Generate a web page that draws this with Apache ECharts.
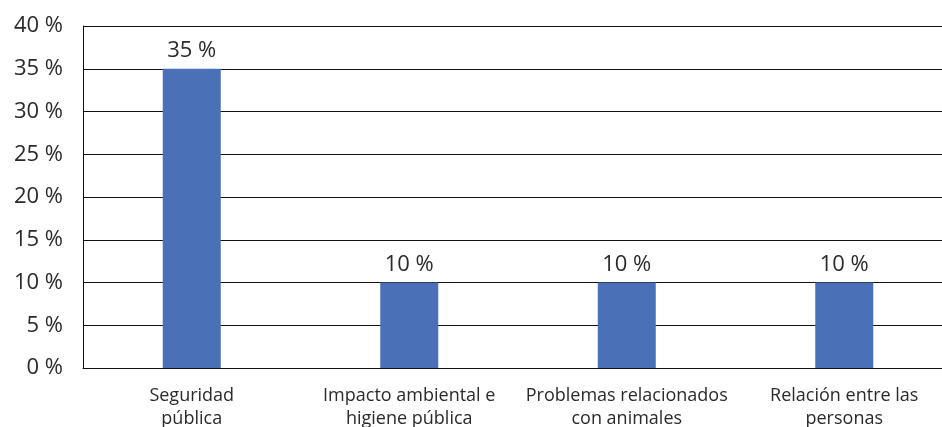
<!DOCTYPE html>
<html>
<head>
<meta charset="utf-8">
<script src="https://cdn.jsdelivr.net/npm/echarts@6/dist/echarts.min.js"></script>
<style>
  html, body { margin: 0; padding: 0; background: #fff; }
  #chart { width: 942px; height: 427px; }
</style>
</head>
<body>
<div id="chart"></div>
<script>
// Categories (wrapped onto two lines) and their shares in percent
const categories = [
  'Seguridad\npública',
  'Impacto ambiental e\nhigiene pública',
  'Problemas relacionados\ncon animales',
  'Relación entre las\npersonas'
];
const shares = [35, 10, 10, 10];
const yTicks = [0, 5, 10, 15, 20, 25, 30, 35, 40];

const font = '"Open Sans", "Noto Sans", sans-serif';
const chart = echarts.init(document.getElementById('chart'), null, { renderer: 'canvas' });

chart.setOption({
  animation: false,
  grid: {
    left: 83, top: 26, bottom: 59, width: 870,
    containLabel: false,
    outerBoundsMode: 'none'
  },
  xAxis: {
    type: 'category',
    data: categories,
    axisLine: { show: true, lineStyle: { color: '#111', width: 1 } },
    axisTick: { show: false },
    axisLabel: {
      color: '#2a2a2a',
      fontFamily: font,
      fontSize: 18,
      lineHeight: 23,
      margin: 16,
      interval: 0
    }
  },
  yAxis: {
    type: 'value',
    min: yTicks[0],
    max: yTicks[yTicks.length - 1],
    interval: yTicks[1] - yTicks[0],
    axisLine: { show: true, lineStyle: { color: '#111', width: 1 } },
    axisTick: { show: false },
    splitLine: { show: true, lineStyle: { color: '#111', width: 1 } },
    axisLabel: {
      color: '#2a2a2a',
      fontFamily: font,
      fontSize: 22,
      margin: 20,
      formatter: v => v + ' %'
    }
  },
  series: [{
    type: 'bar',
    data: shares,
    barWidth: 58,
    itemStyle: { color: '#4A70B7' },
    label: {
      show: true,
      position: 'top',
      distance: 7,
      color: '#2a2a2a',
      fontFamily: font,
      fontSize: 22,
      formatter: p => p.value + ' %'
    }
  }]
});
</script>
</body>
</html>
